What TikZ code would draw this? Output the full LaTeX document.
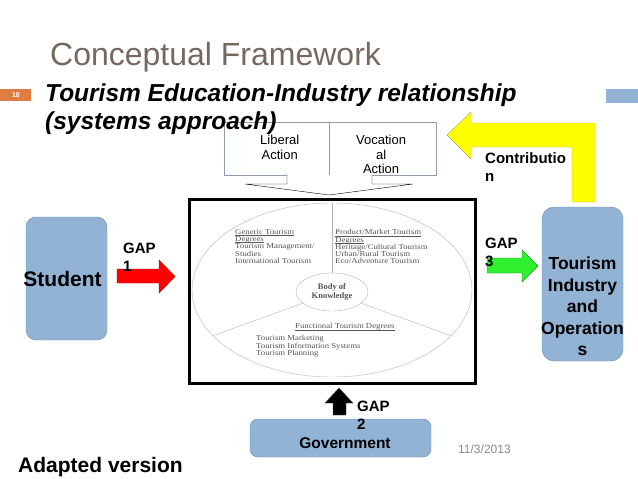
\documentclass[tikz,border=0pt]{standalone}
\usepackage{fontspec}
\setmainfont{Liberation Sans}
\newfontfamily\bokfont{Liberation Serif}
\usetikzlibrary{positioning,shapes.geometric,calc}
\definecolor{actblue}{HTML}{92B3D4}
\definecolor{actedge}{HTML}{6D8CAD}
\definecolor{headbrown}{HTML}{76685F}
\definecolor{pageorange}{HTML}{DE7D3F}
\definecolor{bokgray}{HTML}{555555}
\definecolor{linegray}{HTML}{B4B4B4}
\definecolor{boxline}{HTML}{8E9BB0}
\definecolor{contribyellow}{HTML}{FFFF00}
\definecolor{contribedge}{HTML}{A3A35E}
\definecolor{gapred}{HTML}{FF0000}
\definecolor{gapgreen}{HTML}{2EF02E}
\definecolor{dategray}{HTML}{8A8A8A}
\newcommand\bokul[1]{\leavevmode\setbox0\hbox{#1}\rlap{\rule[-0.9pt]{\wd0}{0.3pt}}\box0}

\begin{document}
\begin{tikzpicture}[x=1pt,y=-1pt,
			actor/.style={draw=actedge,fill=actblue,rounded corners=10pt},
			lbl/.style={inner sep=0pt,align=center,font=\bfseries\fontsize{17.5}{21.5}\selectfont},
			gaptxt/.style={inner sep=0pt,anchor=north west,align=left,font=\bfseries\fontsize{15}{18}\selectfont},
			act/.style={draw=boxline,fill=white,minimum width=105,minimum height=53,anchor=north west},
			acttxt/.style={inner sep=0pt,anchor=north,align=center,font=\fontsize{13}{14.5}\selectfont},
			bok/.style={inner sep=0pt,anchor=north west,align=left,text=bokgray,xscale=1.15,transform shape,font={\bokfont\fontsize{7.6}{7.1}\selectfont\lineskiplimit=-100pt}}
			]
			\useasboundingbox (0,0) rectangle (638,479);
			% slide heading
			\fill[pageorange] (0,89) rectangle (31,101);
			\node[text=white,font=\bfseries\fontsize{7}{8}\selectfont] (pg) at (16,95) {18};
			\fill[actblue] (606,89) rectangle (638,103);
			\node[anchor=base west,inner sep=0pt,text=headbrown,font=\fontsize{32}{38}\selectfont] (ttl) at (50,65) {Conceptual Framework};
			% liberal / vocational action
			\node[act] (lib) at (224,122) {};
			\node[act,minimum width=107] (voc) at (lib.north east) {};
			\node[acttxt] (libt) at ([xshift=3pt,yshift=-13pt]lib.north) {Liberal\\Action};
			\node[acttxt] (voct) at ([xshift=-2pt,yshift=-13pt]voc.north) {Vocation\\al\\Action};
			\draw[fill=white,line join=miter] (287,175) -- (287,184) -- (245,184) -- (329,195) -- (413,184) -- (372,184) -- (372,175);
			\node[anchor=north west,inner sep=0pt,align=left,font=\bfseries\itshape\fontsize{24.5}{28}\selectfont] (sub) at (45,84) {Tourism Education-Industry relationship\\(systems approach)};
			% body of knowledge
			\node[minimum width=285,minimum height=183] (frame) at (332.5,291.5) {};
			\fill[black!30] ([shift={(2,2)}]frame.south west) rectangle ([shift={(2,2)}]frame.north east);
			\draw[line width=3pt,fill=white] (frame.south west) rectangle (frame.north east);
			\node[draw=linegray,ellipse,minimum width=280,minimum height=174,inner sep=0pt] (pie) at (332,290) {};
			\node[draw=linegray,ellipse,minimum width=72,minimum height=38,inner sep=0pt,align=center,text=bokgray,font=\bokfont\bfseries\fontsize{8.5}{8.5}\selectfont] (bk) at (332,292) {Body of\\Knowledge};
			\draw[linegray] (bk.north) -- (pie.north);
			\draw[linegray] (bk.201) -- (pie.201);
			\draw[linegray] (bk.339) -- (pie.339);
			\node[bok] (gen) at (235,229.5) {\bokul{Generic Tourism}\\\bokul{Degrees}\\Tourism Management/\\Studies\\International Tourism};
			\node[bok] (prd) at (335,229.5) {\bokul{Product/Market Tourism}\\\bokul{Degrees}\\Heritage/Cultural Tourism\\Urban/Rural Tourism\\Eco/Adventure Tourism};
			\node[bok] (fun) at (295,323.5) {\bokul{Functional Tourism Degrees}};
			\node[bok] (fnl) at (256,335.5) {Tourism Marketing\\Tourism Information Systems\\Tourism Planning};
			% actors
			\node[actor,minimum width=81,minimum height=123] (st) at (66.5,278.5) {};
			\node[lbl,font=\bfseries\fontsize{21}{24}\selectfont] (stt) at ([xshift=-4pt]st.center) {Student};
			\node[actor,rounded corners=12pt,minimum width=81,minimum height=154] (tio) at (582.5,284) {};
			\node[lbl,anchor=north] (tiot) at ([yshift=-50pt]tio.north) {Tourism\\Industry\\and\\Operation\\s};
			\node[actor,rounded corners=8pt,minimum width=181,minimum height=38] (gov) at (340.5,438) {};
			\node[lbl,anchor=base,font=\bfseries\fontsize{15.5}{18}\selectfont] (govt) at ([xshift=4.5pt,yshift=-10pt]gov.center) {Government};
			% block arrows
			\filldraw[draw=contribedge,fill=contribyellow] (447,135) -- (471,112) -- (471,123) -- (595,123) -- (595,202) -- (572,202) -- (572,147) -- (471,147) -- (471,159) -- cycle;
			\filldraw[draw=gapred!70!black,fill=gapred] (117,269) -- (159,269) -- (159,260) -- (175,276.5) -- (159,293) -- (159,283) -- (117,283) -- cycle;
			\filldraw[draw=gapgreen!60!black,fill=gapgreen] (487,258) -- (522,258) -- (522,250) -- (538,266) -- (522,282) -- (522,273) -- (487,273) -- cycle;
			\filldraw[draw=black!70,fill=black] (333,415) -- (333,403) -- (325,403) -- (339,388) -- (353,403) -- (346,403) -- (346,415) -- cycle;
			\node[gaptxt] (g1) at (123,243) {GAP\\1};
			\node[gaptxt] (g2) at (357,401) {GAP\\2};
			\node[gaptxt] (g3) at (485,238) {GAP\\3};
			\node[gaptxt] (ctr) at (485,152) {Contributio\\n};
			% footer
			\node[anchor=base west,inner sep=0pt,font=\bfseries\fontsize{21}{24}\selectfont] (adp) at (18,472) {Adapted version};
			\node[anchor=base west,inner sep=0pt,text=dategray,font=\fontsize{12}{14}\selectfont] (dt) at (458,453) {11/3/2013};
		\end{tikzpicture}
\end{document}
